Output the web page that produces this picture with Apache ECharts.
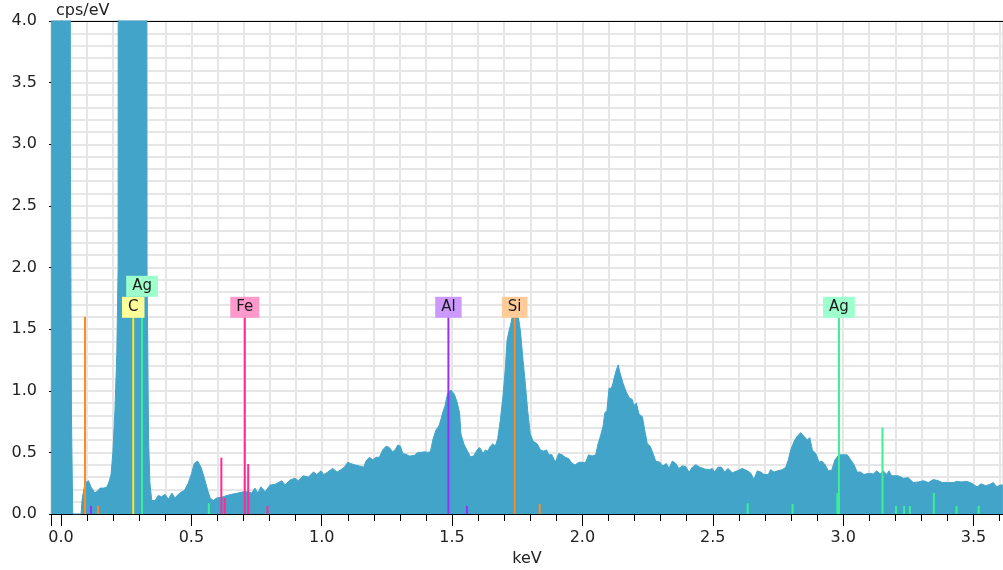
<!DOCTYPE html>
<html>
<head>
<meta charset="utf-8">
<script src="https://cdn.jsdelivr.net/npm/echarts@6/dist/echarts.min.js"></script>
<style>
  html, body { margin: 0; padding: 0; background: #fff; }
  #chart { width: 1003px; height: 570px; }
</style>
</head>
<body>
<div id="chart"></div>
<script>
// ---- data ----
const energies = [
  -0.038, 0.031, 0.036, 0.040, 0.045, 0.077, 0.081, 0.092, 0.105, 0.115, 0.130, 0.142, 0.150, 0.165, 0.176, 0.184,
  0.192, 0.199, 0.207, 0.214, 0.219, 0.222, 0.325, 0.330, 0.336, 0.341, 0.348, 0.361, 0.373, 0.386, 0.399, 0.412,
  0.425, 0.437, 0.450, 0.463, 0.473, 0.488, 0.501, 0.511, 0.524, 0.537, 0.550, 0.563, 0.572, 0.584, 0.597, 0.616,
  0.636, 0.655, 0.680, 0.699, 0.718, 0.731, 0.744, 0.755, 0.767, 0.783, 0.802, 0.821, 0.847, 0.859, 0.878, 0.898,
  0.910, 0.929, 0.949, 0.968, 0.981, 0.997, 1.008, 1.023, 1.042, 1.059, 1.074, 1.087, 1.100, 1.110, 1.125, 1.144,
  1.161, 1.170, 1.183, 1.196, 1.208, 1.221, 1.234, 1.247, 1.259, 1.272, 1.281, 1.292, 1.302, 1.311, 1.323, 1.336,
  1.355, 1.368, 1.381, 1.394, 1.407, 1.417, 1.426, 1.438, 1.451, 1.464, 1.473, 1.483, 1.496, 1.509, 1.519, 1.529,
  1.534, 1.545, 1.557, 1.570, 1.583, 1.596, 1.606, 1.619, 1.628, 1.637, 1.647, 1.657, 1.666, 1.675, 1.685, 1.695,
  1.704, 1.711, 1.717, 1.726, 1.734, 1.743, 1.752, 1.762, 1.772, 1.781, 1.790, 1.800, 1.811, 1.826, 1.839, 1.852,
  1.862, 1.871, 1.883, 1.896, 1.909, 1.922, 1.934, 1.947, 1.960, 1.973, 1.986, 1.998, 2.011, 2.024, 2.037, 2.051,
  2.060, 2.069, 2.079, 2.086, 2.094, 2.102, 2.111, 2.117, 2.128, 2.137, 2.145, 2.156, 2.168, 2.181, 2.191, 2.197,
  2.207, 2.217, 2.230, 2.239, 2.249, 2.260, 2.271, 2.281, 2.297, 2.309, 2.322, 2.332, 2.345, 2.358, 2.370, 2.383,
  2.396, 2.409, 2.422, 2.435, 2.450, 2.469, 2.488, 2.498, 2.507, 2.520, 2.533, 2.546, 2.558, 2.575, 2.594, 2.613,
  2.633, 2.646, 2.658, 2.671, 2.684, 2.697, 2.713, 2.722, 2.735, 2.748, 2.767, 2.780, 2.790, 2.799, 2.812, 2.824,
  2.837, 2.850, 2.863, 2.872, 2.882, 2.895, 2.908, 2.918, 2.931, 2.943, 2.956, 2.969, 2.984, 3.003, 3.016, 3.029,
  3.042, 3.054, 3.067, 3.080, 3.097, 3.116, 3.129, 3.142, 3.154, 3.167, 3.176, 3.186, 3.211, 3.231, 3.250, 3.269,
  3.288, 3.308, 3.327, 3.346, 3.365, 3.381, 3.404, 3.423, 3.436, 3.455, 3.474, 3.493, 3.514, 3.529, 3.547, 3.563,
  3.576, 3.590, 3.602, 3.613
];
const counts = [
  20, 20, 3, 0.8, 0, 0, 0.12, 0.25, 0.27, 0.22, 0.17, 0.19, 0.21, 0.21, 0.22, 0.26,
  0.32, 0.5, 0.85, 1.3, 2.0, 20, 20, 2.0, 0.6, 0.25, 0.11, 0.11, 0.15, 0.14, 0.16, 0.12,
  0.17, 0.13, 0.16, 0.18, 0.19, 0.25, 0.33, 0.41, 0.43, 0.38, 0.29, 0.19, 0.13, 0.11, 0.13, 0.135,
  0.15, 0.16, 0.17, 0.18, 0.18, 0.17, 0.21, 0.17, 0.22, 0.18, 0.235, 0.24, 0.27, 0.235, 0.275, 0.29,
  0.27, 0.31, 0.30, 0.34, 0.32, 0.35, 0.32, 0.34, 0.37, 0.34, 0.36, 0.38, 0.42, 0.41, 0.40, 0.39,
  0.38, 0.43, 0.46, 0.44, 0.46, 0.46, 0.52, 0.55, 0.54, 0.505, 0.52, 0.56, 0.55, 0.49, 0.485, 0.47,
  0.475, 0.50, 0.50, 0.505, 0.50, 0.505, 0.60, 0.68, 0.72, 0.82, 0.88, 0.98, 1.006, 0.97, 0.91, 0.82,
  0.65, 0.57, 0.52, 0.465, 0.47, 0.52, 0.54, 0.49, 0.52, 0.51, 0.55, 0.57, 0.55, 0.61, 0.76, 0.95,
  1.17, 1.41, 1.47, 1.55, 1.63, 1.63, 1.63, 1.49, 1.25, 1.06, 0.84, 0.65, 0.59, 0.57, 0.52, 0.51,
  0.52, 0.48, 0.48, 0.42, 0.49, 0.48, 0.46, 0.45, 0.41, 0.40, 0.42, 0.42, 0.415, 0.48, 0.47, 0.48,
  0.57, 0.63, 0.71, 0.82, 0.84, 1.02, 1.02, 1.06, 1.155, 1.21, 1.14, 1.06, 0.99, 0.94, 0.93, 0.88,
  0.90, 0.81, 0.79, 0.68, 0.57, 0.55, 0.49, 0.43, 0.42, 0.39, 0.41, 0.37, 0.43, 0.41, 0.37, 0.39,
  0.385, 0.34, 0.38, 0.40, 0.38, 0.365, 0.36, 0.37, 0.34, 0.38, 0.38, 0.34, 0.37, 0.335, 0.35, 0.37,
  0.35, 0.33, 0.28, 0.35, 0.34, 0.32, 0.32, 0.36, 0.34, 0.35, 0.36, 0.38, 0.44, 0.52, 0.59, 0.63,
  0.66, 0.63, 0.60, 0.62, 0.52, 0.49, 0.42, 0.43, 0.40, 0.35, 0.355, 0.44, 0.48, 0.48, 0.48, 0.44,
  0.40, 0.34, 0.34, 0.32, 0.33, 0.325, 0.35, 0.325, 0.35, 0.32, 0.35, 0.31, 0.31, 0.29, 0.295, 0.255,
  0.26, 0.27, 0.255, 0.28, 0.27, 0.255, 0.255, 0.255, 0.265, 0.26, 0.265, 0.25, 0.22, 0.245, 0.23, 0.24,
  0.255, 0.22, 0.235, 0.235
];

// element marker lines (keV, cps/eV height, element)
const markerEnergies = [0.092, 0.142, 1.740, 1.836,
                        0.115, 1.486, 1.557,
                        0.277,
                        0.311, 0.567, 2.634, 2.806, 2.978, 2.984, 3.151, 3.203, 3.234, 3.256, 3.348, 3.435, 3.520,
                        0.615, 0.628, 0.705, 0.718, 0.792];
const markerHeights  = [1.6, 0.065, 1.6, 0.08,
                        0.065, 1.6, 0.065,
                        1.6,
                        1.6, 0.087, 0.087, 0.08, 0.17, 1.6, 0.70, 0.065, 0.065, 0.065, 0.17, 0.065, 0.065,
                        0.457, 0.13, 1.6, 0.405, 0.065];
const markerElements = ['Si', 'Si', 'Si', 'Si',
                        'Al', 'Al', 'Al',
                        'C',
                        'Ag', 'Ag', 'Ag', 'Ag', 'Ag', 'Ag', 'Ag', 'Ag', 'Ag', 'Ag', 'Ag', 'Ag', 'Ag',
                        'Fe', 'Fe', 'Fe', 'Fe', 'Fe'];
// lines that carry a label
const labelledEnergies = [0.277, 0.311, 0.705, 1.486, 1.740, 2.984];

const xAxisName = 'keV';
const yAxisName = 'cps/eV';

// ---- styles ----
const elementStyle = {
  C:  { line: '#FFE81A', box: '#FFFF99' },
  Ag: { line: '#3AF095', box: '#9CFFCC' },
  Fe: { line: '#FF2A96', box: '#FF99CC' },
  Al: { line: '#9A2EFF', box: '#CC99FF' },
  Si: { line: '#FF8A1E', box: '#FFCC99' }
};
const elementKeys = Object.keys(elementStyle);
const FONT = '"DejaVu Sans", Verdana, sans-serif';

// label stacking: a label closer than 0.1 keV to the previous one goes one row higher
const labelLevel = {};
const sortedLab = labelledEnergies.slice().sort((a, b) => a - b);
let prevE = null, prevLevel = -1;
sortedLab.forEach(e => {
  let lvl = 0;
  if (prevE !== null && e - prevE < 0.1) lvl = prevLevel + 1;
  labelLevel[e] = lvl; prevE = e; prevLevel = lvl;
});

const spectrum = energies.map((e, i) => [e, counts[i]]);
const markers = markerEnergies.map((e, i) => [
  e, markerHeights[i], elementKeys.indexOf(markerElements[i]),
  labelLevel[e] !== undefined ? labelLevel[e] : -1
]);

const xMin = -0.0384, xMax = 3.6133;
const gridColor = '#e6e6e6';

const chart = echarts.init(document.getElementById('chart'), null, { renderer: 'canvas' });
chart.setOption({
  animation: false,
  backgroundColor: '#fff',
  grid: { left: 51, top: 21, right: 0, bottom: 56, containLabel: false, outerBoundsMode: 'none' },
  graphic: [{
    type: 'text', left: 56, top: 3, z: 100,
    style: { text: yAxisName, font: '16px ' + FONT, fill: '#222' }
  }],
  xAxis: [{
    type: 'value', min: xMin, max: xMax, splitNumber: 8,
    name: xAxisName, nameLocation: 'middle', nameGap: 35,
    nameTextStyle: { fontFamily: FONT, fontSize: 16, color: '#222' },
    axisLine: { show: true, lineStyle: { color: '#000', width: 1 } },
    axisTick: { show: true, length: 12, lineStyle: { color: '#000' } },
    minorTick: { show: true, splitNumber: 5, length: 7, lineStyle: { color: '#000' } },
    axisLabel: { fontFamily: FONT, fontSize: 16, color: '#222', margin: 16, showMinLabel: false, showMaxLabel: false,
      formatter: v => v.toFixed(1) },
    splitLine: { show: true, lineStyle: { color: gridColor, width: 2 } },
    minorSplitLine: { show: true, lineStyle: { color: gridColor, width: 2 } }
  }, {
    type: 'value', min: xMin, max: xMax, position: 'top',
    axisLine: { show: true, onZero: false, lineStyle: { color: '#000', width: 1 } },
    axisTick: { show: false }, axisLabel: { show: false }, splitLine: { show: false }
  }],
  yAxis: {
    type: 'value', min: 0, max: 4, interval: 0.5,
    axisLine: { show: true, lineStyle: { color: '#000', width: 1 } },
    axisTick: { show: true, length: 12, lineStyle: { color: '#000' } },
    minorTick: { show: true, splitNumber: 5, length: 7, lineStyle: { color: '#000' } },
    axisLabel: { fontFamily: FONT, fontSize: 16, color: '#222', margin: 14, formatter: v => v.toFixed(1) },
    splitLine: { show: true, lineStyle: { color: gridColor, width: 2 } },
    minorSplitLine: { show: true, lineStyle: { color: gridColor, width: 2 } }
  },
  series: [{
    type: 'line', data: spectrum, xAxisIndex: 0, showSymbol: false, symbol: 'none',
    lineStyle: { width: 1, color: '#42A4C8' },
    areaStyle: { color: '#42A4C8', opacity: 1 },
    clip: true, z: 2
  }, {
    type: 'custom', data: markers, xAxisIndex: 0, z: 5, clip: false,
    renderItem: function (params, api) {
      const e = api.value(0), h = api.value(1);
      const key = elementKeys[api.value(2)];
      const lvl = api.value(3);
      const st = elementStyle[key];
      const p0 = api.coord([e, 0]);
      const p1 = api.coord([e, h]);
      const children = [{
        type: 'line',
        shape: { x1: p0[0], y1: p0[1], x2: p1[0], y2: p1[1] },
        style: { stroke: st.line, lineWidth: 2 }
      }];
      if (lvl >= 0) {
        children.push({
          type: 'text', x: p1[0], y: p1[1] + 1 - lvl * 21, z2: 10,
          style: {
            text: key, fill: '#1a1a1a', font: '15px ' + FONT,
            align: 'center', verticalAlign: 'bottom',
            backgroundColor: st.box, padding: [3, 6, 3, 6], lineHeight: 15
          }
        });
      }
      return { type: 'group', children: children };
    }
  }]
});
</script>
</body>
</html>
